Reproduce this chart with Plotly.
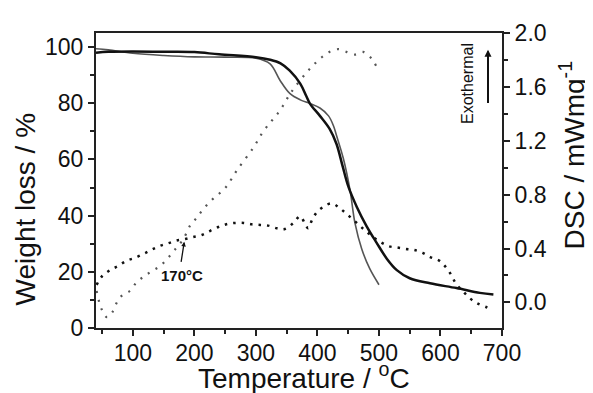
import plotly.graph_objects as go

# TG curve 1 (black, thick)
tg1_T = [40, 60, 100, 150, 200, 240, 300, 323, 340, 355, 372, 382, 388, 404, 420, 431, 441, 450, 464, 480, 496, 513, 529, 550, 583, 626, 664, 686]
tg1_W = [98.0, 98.3, 98.4, 98.3, 98.2, 97.4, 96.4, 95.5, 94.2, 91.6, 87.0, 82.5, 79.8, 75.5, 70.8, 65.5, 57.5, 50.5, 43.1, 36.2, 30.4, 24.6, 20.6, 17.7, 15.9, 14.2, 12.5, 11.9]

# TG curve 2 (gray, thin)
tg2_T = [40, 60, 100, 150, 200, 250, 300, 323, 339, 355, 372, 388, 404, 418, 426, 431, 442, 453, 461, 472, 485, 500]
tg2_W = [99.4, 99.0, 97.8, 97.0, 96.5, 96.4, 96.0, 94.0, 88.2, 83.5, 81.2, 79.9, 78.3, 75.5, 72.0, 68.5, 60.4, 49.0, 37.3, 28.1, 21.1, 15.4]

# DSC curve A (sparse dots, goes with gray TG)
dscA_T = [41, 49, 58, 67, 74, 82, 95, 106, 117, 130, 144, 157, 168, 182, 193, 204, 214, 228, 241, 252, 269, 296, 312, 326, 335, 344, 353, 362, 381, 393, 407, 420, 434, 447, 461, 474, 488, 496]
dscA_D = [0.085, -0.05, -0.11, -0.07, 0.0, 0.05, 0.085, 0.15, 0.19, 0.23, 0.27, 0.33, 0.39, 0.47, 0.57, 0.63, 0.69, 0.76, 0.81, 0.86, 0.98, 1.15, 1.27, 1.35, 1.40, 1.46, 1.53, 1.59, 1.70, 1.76, 1.82, 1.86, 1.88, 1.86, 1.84, 1.86, 1.81, 1.75]

# DSC curve B (dense dots, goes with black TG)
dscB_T = [41, 49, 63, 76, 90, 103, 117, 130, 144, 158, 171, 185, 198, 212, 225, 239, 252, 266, 280, 293, 307, 320, 334, 347, 361, 372, 380, 385, 391, 399, 410, 423, 436, 449, 463, 476, 489, 502, 516, 530, 544, 557, 571, 584, 598, 609, 618, 625, 636, 648, 660, 675, 682]
dscB_D = [0.13, 0.19, 0.24, 0.27, 0.31, 0.33, 0.36, 0.39, 0.42, 0.44, 0.46, 0.47, 0.485, 0.50, 0.53, 0.56, 0.58, 0.59, 0.59, 0.58, 0.575, 0.57, 0.55, 0.545, 0.59, 0.64, 0.58, 0.55, 0.61, 0.67, 0.71, 0.735, 0.70, 0.65, 0.594, 0.54, 0.49, 0.45, 0.417, 0.407, 0.397, 0.39, 0.368, 0.335, 0.31, 0.26, 0.20, 0.14, 0.085, 0.03, -0.007, -0.036, -0.05]

x_ticks = [100, 200, 300, 400, 500, 600, 700]
wl_ticks = [0, 20, 40, 60, 80, 100]
dsc_ticks = [0.0, 0.4, 0.8, 1.2, 1.6, 2.0]

FONT = "Liberation Sans, Arial, sans-serif"
TITLE_SIZE = 28

fig = go.Figure()
fig.add_trace(go.Scatter(x=dscA_T, y=dscA_D, yaxis="y2", mode="lines", line=dict(color="#555555", width=2.2, dash="2px,7px", shape="spline"), showlegend=False))
fig.add_trace(go.Scatter(x=dscB_T, y=dscB_D, yaxis="y2", mode="lines", line=dict(color="#111111", width=2.5, dash="2.5px,6px", shape="spline"), showlegend=False))
fig.add_trace(go.Scatter(x=tg2_T, y=tg2_W, mode="lines", line=dict(color="#555555", width=1.6, shape="spline"), showlegend=False))
fig.add_trace(go.Scatter(x=tg1_T, y=tg1_W, mode="lines", line=dict(color="#111111", width=2.5, shape="spline"), showlegend=False))

axis_common = dict(
    showgrid=False, zeroline=False, showline=True, linecolor="#222", linewidth=2,
    ticks="outside", ticklen=6, tickwidth=1.5, tickcolor="#222",
    tickfont=dict(family=FONT, size=23, color="#111"),
)

def dom(px, py):
    # plot area in the screenshot spans x 96..502, y 27..328
    return (px - 96) / 406, (328 - py) / 301

lt_x, lt_y = dom(25, 207)
rt_x, rt_y = dom(572, 152)
xt_x, xt_y = dom(304, 377)
ex_x, ex_y = dom(468, 79)
ar_x, ar_tip = dom(488, 44)
_, ar_tail = dom(488, 100)

fig.update_layout(
    width=585, height=385,
    margin=dict(l=88, r=91, t=19, b=65),
    paper_bgcolor="white", plot_bgcolor="white",
    font=dict(family=FONT, color="#111"),
    xaxis=dict(
        range=[40, 700], tickvals=x_ticks, mirror=True, ticklabelstandoff=-3,
        minor=dict(dtick=50, tick0=0, ticks="outside", ticklen=4, tickwidth=1.5, tickcolor="#222"),
        **axis_common,
    ),
    yaxis=dict(
        range=[0, 105], tickvals=wl_ticks,
        minor=dict(dtick=10, tick0=0, ticks="outside", ticklen=4, tickwidth=1.5, tickcolor="#222"),
        **axis_common,
    ),
    yaxis2=dict(
        range=[-0.19, 2.0], tickvals=dsc_ticks, tickformat=".1f", overlaying="y", side="right",
        minor=dict(dtick=0.2, tick0=0, ticks="outside", ticklen=4, tickwidth=1.5, tickcolor="#222"),
        **axis_common,
    ),
    annotations=[
        # axis titles
        dict(x=lt_x, y=lt_y, xref="x domain", yref="y domain", xanchor="center", yanchor="middle",
             text="Weight loss / %", textangle=-90,
             showarrow=False, font=dict(family=FONT, size=TITLE_SIZE, color="#111")),
        dict(x=rt_x, y=rt_y, xref="x domain", yref="y domain", xanchor="center", yanchor="middle",
             text="DSC / mWmg<sup>-1</sup>", textangle=-90,
             showarrow=False, font=dict(family=FONT, size=TITLE_SIZE, color="#111")),
        dict(x=xt_x, y=xt_y, xref="x domain", yref="y domain", xanchor="center", yanchor="middle",
             text="Temperature / <sup>o</sup>C",
             showarrow=False, font=dict(family=FONT, size=TITLE_SIZE, color="#111")),
        # 170 C marker
        dict(x=183.5, y=0.45, xref="x", yref="y2", ax=178, ay=0.29, axref="x", ayref="y2",
             text="", showarrow=True, arrowhead=2, arrowsize=0.7, arrowwidth=1.3, arrowcolor="#111"),
        dict(x=179, y=0.20, xref="x", yref="y2", text="<b>170°C</b>", showarrow=False,
             font=dict(family=FONT, size=15, color="#111")),
        # Exothermal
        dict(x=ex_x, y=ex_y, xref="x domain", yref="y domain", xanchor="center", yanchor="middle",
             text="Exothermal", textangle=-90, showarrow=False, font=dict(family=FONT, size=16, color="#111")),
        dict(x=ar_x, y=ar_tip, xref="x domain", yref="y domain",
             ax=ar_x, ay=ar_tail, axref="x domain", ayref="y domain",
             text="", showarrow=True, arrowhead=2, arrowsize=0.7, arrowwidth=2, arrowcolor="#111"),
    ],
)

fig.write_html("out.html")
